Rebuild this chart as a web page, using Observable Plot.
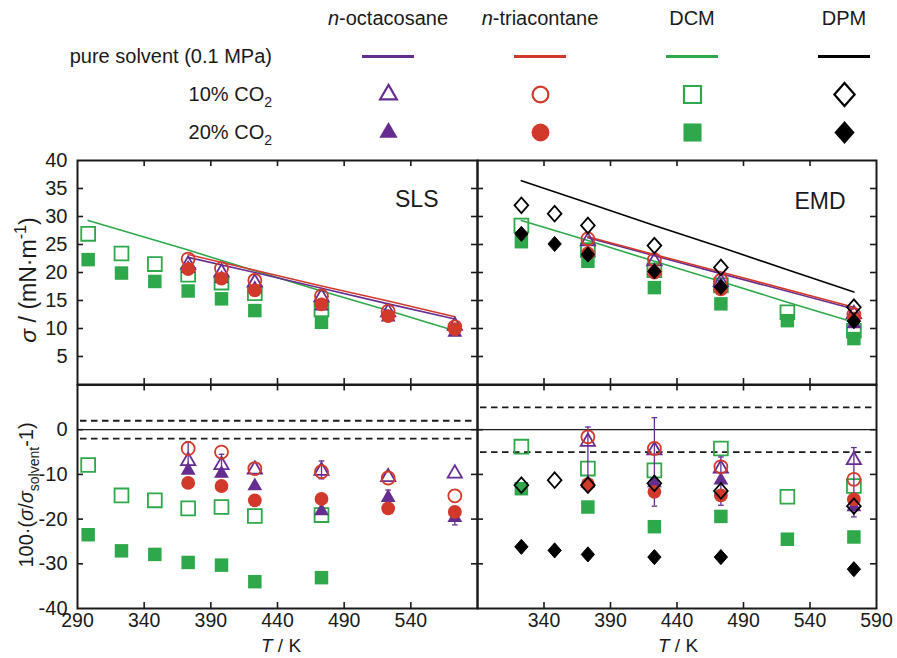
<!DOCTYPE html>
<html>
<head>
<meta charset="utf-8">
<script src="https://cdn.jsdelivr.net/npm/d3@7"></script>
<script src="https://cdn.jsdelivr.net/npm/@observablehq/plot@0.6"></script>
<style>
  html, body { margin: 0; padding: 0; background: #fff; }
  #root { position: relative; width: 897px; height: 658px; overflow: hidden; background: #fff; }
</style>
</head>
<body>
<div id="root"></div>
<script>
// ---------------- data ----------------
// temperatures, K
const T_sls_dcm = [298, 323, 348, 373, 398, 423, 473];
const T_sls_alk = [373, 398, 423, 473, 523, 573];
const T_emd_dcm = [323, 373, 423, 473, 523, 573];
const T_emd_dpm = [323, 348, 373, 423, 473, 573];
const T_emd_alk = [373, 423, 473, 573];

// pure solvent (0.1 MPa) lines, sigma in mN/m
const T_line_sls_alk = [373, 423, 473, 523, 573];
const sls_line_oct = [22.7, 20.0, 17.2, 14.4, 11.7];
const sls_line_tri = [23.2, 20.4, 17.6, 14.9, 12.1];
const T_line_sls_dcm = [298, 373, 423, 473, 523, 573];
const sls_line_dcm = [29.3, 24.0, 20.3, 16.7, 13.2, 9.6];
const T_line_emd_alk = [373, 423, 473, 573];
const emd_line_oct = [26.2, 23.0, 19.8, 13.5];
const emd_line_tri = [26.4, 23.2, 20.1, 13.8];
const T_line_emd = [323, 373, 423, 473, 523, 573];
const emd_line_dcm = [29.3, 25.7, 22.0, 18.4, 14.7, 11.1];
const emd_line_dpm = [36.4, 32.4, 28.4, 24.5, 20.5, 16.5];

// SLS sigma, 10% and 20% CO2
const sls_oct10 = [21.4, 20.0, 18.2, 15.6, 12.9, 10.5];
const sls_oct20 = [20.7, 18.9, 17.1, 14.0, 12.0, 9.3];
const sls_tri10 = [22.4, 20.7, 18.6, 15.8, 13.1, 10.3];
const sls_tri20 = [20.6, 18.9, 16.8, 14.3, 12.2, 9.9];
const sls_dcm10 = [26.9, 23.4, 21.5, 19.6, 18.2, 16.3, 13.4];
const sls_dcm20 = [22.3, 19.9, 18.4, 16.7, 15.3, 13.2, 11.1];

// SLS relative deviation, %
const dev_sls_oct10 = [-7.0, -7.9, -8.9, -9.2, -10.6, -9.8];
const dev_sls_oct20 = [-9.1, -9.8, -12.6, -18.2, -15.2, -19.7];
const dev_sls_tri10 = [-4.2, -5.0, -8.7, -9.4, -10.8, -14.8];
const dev_sls_tri20 = [-11.9, -12.6, -15.8, -15.5, -17.6, -18.4];
const dev_sls_dcm10 = [-7.9, -14.7, -15.8, -17.6, -17.3, -19.3, -19.1];
const dev_sls_dcm20 = [-23.5, -27.1, -27.9, -29.7, -30.3, -34.0, -33.1];
const err_sls_T = [373, 398, 473, 523, 573];
const err_sls_hi = [-2.7, -5.5, -7.0, -13.5, -18.5];
const err_sls_lo = [-9.5, -10.5, -11.0, -17.0, -21.3];

// EMD sigma
const emd_dpm10 = [32.0, 30.5, 28.4, 24.8, 20.9, 13.8];
const emd_dpm20 = [26.9, 25.1, 23.2, 20.2, 17.4, 11.3];
const emd_dcm10 = [28.4, 24.0, 20.4, 17.7, 12.9, 9.6];
const emd_dcm20 = [25.5, 22.0, 17.3, 14.4, 11.4, 8.2];
const emd_tri10 = [26.0, 22.3, 18.6, 12.5];
const emd_tri20 = [23.4, 20.0, 17.0, 11.8];
const emd_oct10 = [25.6, 22.0, 18.3, 12.6];
const emd_oct20 = [23.6, 20.3, 17.7, 10.8];

// EMD relative deviation, %
const dev_emd_dcm10 = [-3.8, -8.7, -9.1, -4.2, -15.0, -12.6];
const dev_emd_dcm20 = [-13.2, -17.3, -21.7, -19.4, -24.5, -24.0];
const dev_emd_dpm10 = [-12.4, -11.3, -12.4, -12.0, -13.7, -17.1];
const dev_emd_dpm20 = [-26.2, -27.0, -27.9, -28.5, -28.5, -31.2];
const dev_emd_tri10 = [-1.6, -4.2, -8.3, -11.1];
const dev_emd_tri20 = [-12.2, -13.9, -14.7, -15.6];
const dev_emd_oct10 = [-2.7, -4.6, -8.7, -6.8];
const dev_emd_oct20 = [-12.0, -11.9, -11.3, -17.3];
const err_emd_T = [373, 423, 473, 573];
const err_emd_hi = [0.6, 2.7, -6.1, -4.0];
const err_emd_lo = [-12.0, -17.1, -16.9, -19.5];

// uncertainty bands (dashed lines), %
const band_sls = 2;
const band_emd = 5;

// ticks
const xTicksInner = [340, 390, 440, 490, 540];
const xLabelsLeft = [290, 340, 390, 440, 490, 540];
const xLabelsRight = [340, 390, 440, 490, 540, 590];
const yTicksTop = [5, 10, 15, 20, 25, 30, 35];
const yLabelsTop = [5, 10, 15, 20, 25, 30, 35, 40];
const yTicksBottom = [-30, -20, -10, 0];
const yLabelsBottom = [-40, -30, -20, -10, 0];

// legend
const solvents = ["n-octacosane", "n-triacontane", "DCM", "DPM"];
const legendRows = ["header", "pure solvent (0.1 MPa)", "10% CO2", "20% CO2"];

// ---------------- styling ----------------
const FONT = '"Liberation Sans", Arial, Helvetica, sans-serif';
const PURPLE = "#662d91", RED = "#d13a2b", GREEN = "#2ea84a", BLACK = "#000000";
const solventColors = [PURPLE, RED, GREEN, BLACK];

const diamondSym = { draw(ctx, size) { const r = Math.sqrt(size) * 0.62625; ctx.moveTo(0, -r * 1.08); ctx.lineTo(r * 0.95, 0); ctx.lineTo(0, r * 1.08); ctx.lineTo(-r * 0.95, 0); ctx.closePath(); } };
const capSym = { draw(ctx, size) { const r = Math.sqrt(size); ctx.moveTo(-r, 0); ctx.lineTo(r, 0); } };
const solventSymbols = ["triangle", "circle", "square", diamondSym];

const root = document.getElementById("root");
function place(el, left, top) {
  el.style.position = "absolute";
  el.style.left = left + "px";
  el.style.top = top + "px";
  el.style.overflow = "visible";
  root.appendChild(el);
  return el;
}

const tbl = (T, v) => T.map((t, i) => ({T: t, v: v[i]}));
const R = {triangle: 5.3, circle: 6.5, square: 7.8, diamond: 6.5};
const Rf = {triangle: 5.5, circle: 6.9, square: 7.6, diamond: 6.3};
function openDot(T, v, k) {
  const i = k; const sym = solventSymbols[i];
  const r = [R.triangle, R.circle, R.square, R.diamond][i];
  return Plot.dot(tbl(T, v), {x: "T", y: "v", symbol: sym, r, stroke: solventColors[i], fill: "none", strokeWidth: 1.8});
}
function fillDot(T, v, k) {
  const i = k; const sym = solventSymbols[i];
  const r = [Rf.triangle, Rf.circle, Rf.square, Rf.diamond][i];
  return Plot.dot(tbl(T, v), {x: "T", y: "v", symbol: sym, r, fill: solventColors[i], stroke: i === 3 ? BLACK : "none", strokeWidth: 1});
}
function pureLine(T, v, k) {
  return Plot.line(tbl(T, v), {x: "T", y: "v", stroke: solventColors[k], strokeWidth: 1.6});
}
function errBars(T, hi, lo) {
  const d = T.map((t, i) => ({T: t, hi: hi[i], lo: lo[i]}));
  return [
    Plot.ruleX(d, {x: "T", y1: "hi", y2: "lo", stroke: PURPLE, strokeWidth: 1.3}),
    Plot.dot(d, {x: "T", y: "hi", symbol: capSym, r: 1.6, stroke: PURPLE, strokeWidth: 1.3}),
    Plot.dot(d, {x: "T", y: "lo", symbol: capSym, r: 1.6, stroke: PURPLE, strokeWidth: 1.3})
  ];
}

function panel({left, top, width, height, mL, mR, mT, mB, yDomain, yTicks, yLabels, xLabels, band, marks}) {
  const fw = width - mL - mR, fh = height - mT - mB;
  const all = [];
  if (band != null) {
    all.push(Plot.ruleY([band, -band], {strokeDasharray: "6.5,4.5", strokeWidth: 1.8, insetLeft: 3, insetRight: 3}));
    all.push(Plot.ruleY([0], {strokeWidth: 1.3}));
  }
  all.push(...marks);
  all.push(Plot.tickY(yTicks, {y: d => d, insetRight: fw - 6, strokeWidth: 1.6}));
  all.push(Plot.tickY(yTicks, {y: d => d, insetLeft: fw - 6, strokeWidth: 1.6}));
  all.push(Plot.tickX(xTicksInner, {x: d => d, insetTop: fh - 6, strokeWidth: 1.6}));
  all.push(Plot.tickX(xTicksInner, {x: d => d, insetBottom: fh - 6, strokeWidth: 1.6}));
  if (yLabels) all.push(Plot.axisY(yLabels, {anchor: "left", tickSize: 0, tickPadding: 10, tickFormat: d => String(d), label: null, fontSize: 20}));
  if (xLabels) all.push(Plot.axisX(xLabels, {anchor: "bottom", tickSize: 0, tickPadding: 5, tickFormat: d => String(d), label: null, fontSize: 19.5}));
  all.push(Plot.frame({strokeWidth: 2}));
  const svg = Plot.plot({
    width, height, marginLeft: mL, marginRight: mR, marginTop: mT, marginBottom: mB,
    x: {domain: [290, 590], axis: null},
    y: {domain: yDomain, axis: null},
    style: {fontFamily: FONT, fontSize: "19.5px", color: "#1a1a1a", background: "transparent", overflow: "visible"},
    marks: all
  });
  return place(svg, left, top);
}

// ---------------- panels ----------------
const OCT = 0, TRI = 1, DCM = 2, DPM = 3;

// SLS sigma
panel({
  left: 0, top: 150, width: 480, height: 240, mL: 77, mR: 3, mT: 10, mB: 6,
  yDomain: [0, 40], yTicks: yTicksTop, yLabels: yLabelsTop,
  marks: [
    pureLine(T_line_sls_dcm, sls_line_dcm, DCM),
    pureLine(T_line_sls_alk, sls_line_oct, OCT),
    pureLine(T_line_sls_alk, sls_line_tri, TRI),
    fillDot(T_sls_dcm, sls_dcm20, DCM),
    openDot(T_sls_dcm, sls_dcm10, DCM),
    fillDot(T_sls_alk, sls_oct20, OCT),
    openDot(T_sls_alk, sls_oct10, OCT),
    fillDot(T_sls_alk, sls_tri20, TRI),
    openDot(T_sls_alk, sls_tri10, TRI),
    Plot.text(["SLS"], {frameAnchor: "top-right", text: d => d, dx: -39, dy: 30, fontSize: 23, textAnchor: "end", fill: "#1a1a1a"})
  ]
});

// EMD sigma
panel({
  left: 470, top: 150, width: 427, height: 240, mL: 7, mR: 21, mT: 10, mB: 6,
  yDomain: [0, 40], yTicks: yTicksTop, yLabels: null,
  marks: [
    pureLine(T_line_emd, emd_line_dpm, DPM),
    pureLine(T_line_emd, emd_line_dcm, DCM),
    pureLine(T_line_emd_alk, emd_line_oct, OCT),
    pureLine(T_line_emd_alk, emd_line_tri, TRI),
    fillDot(T_emd_dcm, emd_dcm20, DCM),
    openDot(T_emd_dcm, emd_dcm10, DCM),
    fillDot(T_emd_alk, emd_oct20, OCT),
    openDot(T_emd_alk, emd_oct10, OCT),
    fillDot(T_emd_alk, emd_tri20, TRI),
    openDot(T_emd_alk, emd_tri10, TRI),
    openDot(T_emd_dpm, emd_dpm10, DPM),
    fillDot(T_emd_dpm, emd_dpm20, DPM),
    Plot.text(["EMD"], {frameAnchor: "top-right", text: d => d, dx: -31, dy: 32, fontSize: 23, textAnchor: "end", fill: "#1a1a1a"})
  ]
});

// SLS deviation
panel({
  left: 0, top: 380, width: 480, height: 278, mL: 77, mR: 3, mT: 4.5, mB: 50,
  yDomain: [-40, 10], yTicks: yTicksBottom, yLabels: yLabelsBottom, xLabels: xLabelsLeft, band: band_sls,
  marks: [
    fillDot(T_sls_dcm, dev_sls_dcm20, DCM),
    openDot(T_sls_dcm, dev_sls_dcm10, DCM),
    ...errBars(err_sls_T, err_sls_hi, err_sls_lo),
    fillDot(T_sls_alk, dev_sls_oct20, OCT),
    openDot(T_sls_alk, dev_sls_oct10, OCT),
    fillDot(T_sls_alk, dev_sls_tri20, TRI),
    openDot(T_sls_alk, dev_sls_tri10, TRI)
  ]
});

// EMD deviation
panel({
  left: 470, top: 380, width: 427, height: 278, mL: 7, mR: 21, mT: 4.5, mB: 50,
  yDomain: [-40, 10], yTicks: yTicksBottom, yLabels: null, xLabels: xLabelsRight, band: band_emd,
  marks: [
    fillDot(T_emd_dcm, dev_emd_dcm20, DCM),
    openDot(T_emd_dcm, dev_emd_dcm10, DCM),
    ...errBars(err_emd_T, err_emd_hi, err_emd_lo),
    fillDot(T_emd_alk, dev_emd_oct20, OCT),
    openDot(T_emd_alk, dev_emd_oct10, OCT),
    fillDot(T_emd_alk, dev_emd_tri20, TRI),
    openDot(T_emd_alk, dev_emd_tri10, TRI),
    openDot(T_emd_dpm, dev_emd_dpm10, DPM),
    fillDot(T_emd_dpm, dev_emd_dpm20, DPM)
  ]
});

// ---------------- legend ----------------
const legendR_open = [6.2, 7.9, 9.6, 9.6];
const legendR_fill = [6.8, 8.9, 10.2, 9.6];
const legend = Plot.plot({
  width: 897, height: 150, margin: 0,
  x: {type: "band", domain: solvents, range: [361, 871], paddingInner: 0.66, paddingOuter: 0, axis: null},
  y: {type: "point", domain: legendRows, range: [17, 133], padding: 0, axis: null},
  color: {domain: solvents, range: solventColors},
  style: {background: "transparent", overflow: "visible"},
  marks: [
    Plot.tickY(solvents, {x: d => d, y: () => legendRows[1], stroke: d => d, strokeWidth: 3}),
    ...solvents.map((s, i) => Plot.dot([s], {x: d => d, y: () => legendRows[2], symbol: solventSymbols[i], r: legendR_open[i], stroke: solventColors[i], fill: "none", strokeWidth: 2.2})),
    ...solvents.map((s, i) => Plot.dot([s], {x: d => d, y: () => legendRows[3], symbol: solventSymbols[i], r: legendR_fill[i], fill: solventColors[i], stroke: "none"}))
  ]
});
place(legend, 0, 0);

// ---------------- text overlay ----------------
const overlay = d3.create("svg").attr("width", 897).attr("height", 658);
place(overlay.node(), 0, 0);
overlay.style("pointer-events", "none");

function rich(x, y, parts, {anchor = "middle", size = 19, rotate = 0} = {}) {
  const t = overlay.append("text").attr("x", x).attr("y", y).attr("text-anchor", anchor)
    .attr("font-family", FONT).attr("font-size", size).attr("fill", "#1a1a1a");
  if (rotate) t.attr("transform", `rotate(${rotate} ${x} ${y})`);
  let shift = 0;
  for (const p of parts) {
    const target = p.sub ? 0.32 * size : p.sup ? -0.42 * size : 0;
    const s = t.append("tspan").text(p.t);
    if (target !== shift) s.attr("dy", target - shift);
    shift = target;
    if (p.sub || p.sup) s.attr("font-size", size * 0.7);
    if (p.i) s.attr("font-style", "italic");
  }
  return t;
}

const xs = legend.scale("x"), ys = legend.scale("y");
const colX = s => xs.apply(s) + (xs.bandwidth || 0) / 2;
const headerParts = [
  [{t: "n", i: true}, {t: "-octacosane"}],
  [{t: "n", i: true}, {t: "-triacontane"}],
  [{t: "DCM"}],
  [{t: "DPM"}]
];
solvents.forEach((s, i) => rich(colX(s), ys.apply(legendRows[0]) + 7, headerParts[i], {size: 20}));
rich(272, ys.apply(legendRows[1]) + 7, [{t: "pure solvent (0.1 MPa)"}], {anchor: "end", size: 20});
rich(272, ys.apply(legendRows[2]) + 7, [{t: "10% CO"}, {t: "2", sub: true}], {anchor: "end", size: 20});
rich(272, ys.apply(legendRows[3]) + 7, [{t: "20% CO"}, {t: "2", sub: true}], {anchor: "end", size: 20});

// axis titles
rich(36, 280, [{t: "σ", i: true}, {t: " / (mN·m"}, {t: "-1", sup: true}, {t: ")"}], {rotate: -90, size: 23});
rich(33, 495, [{t: "100·("}, {t: "σ", i: true}, {t: "/"}, {t: "σ", i: true}, {t: "solvent", sub: true}, {t: "-1"}, {t: ")"}], {rotate: -90, size: 20});
rich(281, 652, [{t: "T", i: true}, {t: " / K"}]);
rich(678, 652, [{t: "T", i: true}, {t: " / K"}]);
</script>
</body>
</html>
